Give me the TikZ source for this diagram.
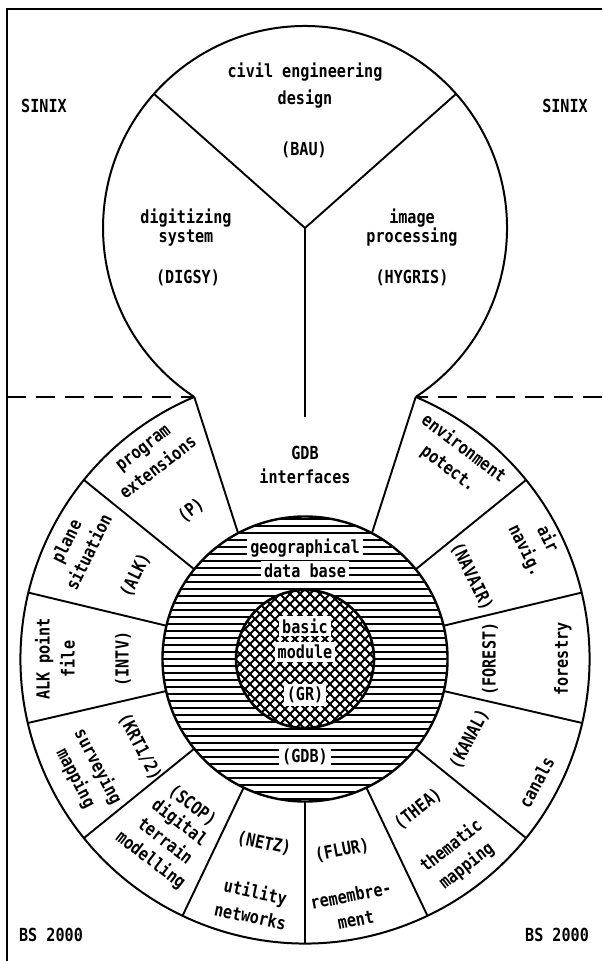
\documentclass[tikz,border=0pt]{standalone}
\usepackage{fontspec}
\newfontfamily\plotfont{DejaVu Sans Mono}[FakeStretch=0.84]
\usetikzlibrary{calc}

\begin{document}
\begin{tikzpicture}[
    x=0.5pt, y=0.5pt,
    outline/.style={line width=1pt},
    sepline/.style={line width=0.95pt},
    hatchline/.style={line width=1.15pt},
    meshline/.style={line width=0.95pt},
    txt/.style={font=\plotfont\bfseries\fontsize{9}{12.5}\selectfont,
      align=center, inner sep=0pt},
    gap/.style={txt, fill=white, inner sep=1.5pt},
    border/.style={line width=0.8pt, dash pattern=on 9.5pt off 5pt},
  ]
  \useasboundingbox (0,0) rectangle (602,-961);

  % ── Frame and system border ──
  \coordinate (tl) at (7,-9);
  \coordinate (tr) at (602,-9);
  \coordinate (bl) at (7,-961);
  \draw[line width=1.1pt] (bl) -- (tl) -- (tr);

  \coordinate (B) at (305,-228);   % bulb centre
  \coordinate (W) at (305,-659);   % wheel centre
  \coordinate (nl) at (194.26,-396.94);
  \coordinate (nr) at (415.74,-396.94);
  \coordinate (dl) at (7,-396.94);
  \coordinate (dr) at (602,-396.94);
  \draw[border] (dl) -- (nl);
  \draw[border] (dr) -- (nr);

  \node[txt] (sinixl) at (44,-106) {SINIX};
  \node[txt] (sinixr) at (565,-106) {SINIX};
  \node[txt] (bsl) at (51,-935) {BS 2000};
  \node[txt] (bsr) at (557,-935) {BS 2000};

  % ── SINIX bulb ──
  \draw[outline] (nr) arc[start angle=-56.76, end angle=236.76, radius=202];
  \coordinate (Jend) at (305,-417);
  \draw[sepline] ($(B)+(138.4:202)$) -- (B) -- ($(B)+(41.6:202)$);
  \draw[sepline] (B) -- (Jend);

  \node[txt] (bau) at (305,-85.5) {civil engineering\\[1pt]design};
  \node[txt] (baucode) at (304,-150) {(BAU)};
  \node[txt] (digsy) at (186,-228) {digitizing\\[-3pt]system};
  \node[txt] (digsycode) at (188,-278) {(DIGSY)};
  \node[txt] (hygris) at (412,-228) {image\\[-3pt]processing};
  \node[txt] (hygriscode) at (412,-278) {(HYGRIS)};

  % ── BS 2000 wheel ──
  \begin{scope}[shift={(W)}]
    \begin{scope}
      \clip (0,0) circle[radius=142.5];
      \foreach \y in {-140,-133,...,141}
        \draw[hatchline] (-150,\y) -- (150,\y);
    \end{scope}
    \fill[white] (0,0) circle[radius=69];
    \begin{scope}
      \clip (0,0) circle[radius=69];
      \foreach \d in {-150,-140,...,150} {
        \draw[meshline] (\d-80,-80) -- (\d+80,80);
        \draw[meshline] (\d-80,80) -- (\d+80,-80);
      }
    \end{scope}
    \draw[line width=1.2pt] (0,0) circle[radius=142.5];
    \draw[line width=1.3pt] (0,0) circle[radius=69];
    \draw[outline] (112.91:284.5) arc[start angle=112.91, end angle=427.09, radius=284.5];

    \draw[sepline] (118:142.5) -- (nl);
    \draw[sepline] (62:142.5) -- (nr);
    \foreach \a in {13.5,39,141,166.5,193,219,244.5,270,295.5,321,347}
      \draw[sepline] (\a:142.5) -- (\a:284.5);

    \node[txt] (gdbif) at (0,194) {GDB\\[-0.5pt]interfaces};

    \node[gap] (geo) at (0,111) {geographical};
    \node[gap] (dbase) at (0,88) {data base};
    \node[gap] (gdb) at (0,-98) {(GDB)};
    \node[gap] (basic) at (0,33) {basic};
    \node[gap] (module) at (0,7) {module};
    \node[gap] (gr) at (0,-36) {(GR)};

    % upper and side sectors
    \node[txt, rotate=37.5] (pext) at (127.5:253) {program\\extensions};
    \node[txt, rotate=37.5] (pcode) at (127.5:187) {(P)};
    \node[txt, rotate=63.75] (alk) at (153.75:254) {plane\\situation};
    \node[txt, rotate=63.75] (alkcode) at (153.75:189) {(ALK)};
    \node[txt, rotate=90] (intv) at (180:250) {ALK point\\file};
    \node[txt, rotate=90] (intvcode) at (180:182) {(INTV)};
    \node[txt, rotate=-37] (envir) at (53:251) {environment\\potect.};
    \node[txt, rotate=-63.75] (navair) at (26.25:258) {air\\navig.};
    \node[txt, rotate=-63.75] (navaircode) at (26.25:186) {(NAVAIR)};
    \node[txt, rotate=90] (forest) at (0:258) {forestry};
    \node[txt, rotate=90] (forestcode) at (0:185) {(FOREST)};

    % lower sectors
    \node[txt, rotate=-62.5] (krt) at (207.5:246) {surveying\\mapping};
    \node[txt, rotate=-62.5] (krtcode) at (208:187) {(KRT1/2)};
    \node[txt, rotate=-37.5] (scop) at (232.5:230) {digital\\[-0.75pt]terrain\\[-0.75pt]modelling};
    \node[txt, rotate=-37.5] (scopcode) at (232.5:185) {(SCOP)};
    \node[txt, rotate=-12] (netz) at (258:250) {utility\\networks};
    \node[txt, rotate=-12] (netzcode) at (257.5:189) {(NETZ)};
    \node[txt, rotate=11] (flur) at (281:253) {remembre-\\ment};
    \node[txt, rotate=11] (flurcode) at (281:195) {(FLUR)};
    \node[txt, rotate=38] (thea) at (308:250) {thematic\\mapping};
    \node[txt, rotate=38] (theacode) at (307:188) {(THEA)};
    \node[txt, rotate=62] (kanal) at (332:262) {canals};
    \node[txt, rotate=62] (kanalcode) at (334:183) {(KANAL)};
  \end{scope}
\end{tikzpicture}
\end{document}
